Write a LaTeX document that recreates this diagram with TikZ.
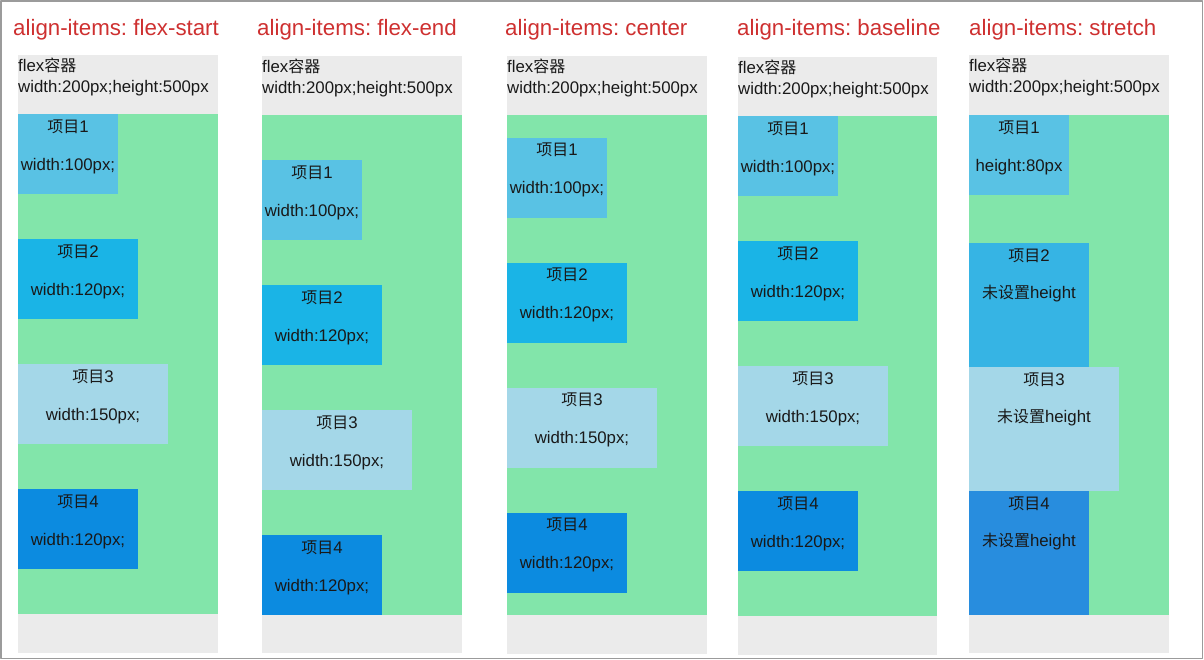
\documentclass[tikz,border=0pt]{standalone}
\usepackage{fontspec}
\setmainfont{Liberation Sans}
\newfontfamily\cjk[Scale=0.95]{Noto Sans CJK SC}
\frenchspacing

\definecolor{ttlred}{RGB}{206,48,48}
\definecolor{boxgray}{RGB}{235,235,235}
\definecolor{flexgreen}{RGB}{130,229,170}
\definecolor{itemA}{RGB}{89,194,228}
\definecolor{itemB}{RGB}{26,180,230}
\definecolor{itemC}{RGB}{164,215,232}
\definecolor{itemD}{RGB}{12,139,224}
\definecolor{itemBs}{RGB}{54,180,228}
\definecolor{itemDs}{RGB}{40,141,222}
\definecolor{framegray}{RGB}{155,155,155}
\definecolor{ink}{RGB}{25,25,25}

\tikzset{
  box/.style={rectangle, inner sep=0pt, outer sep=0pt, anchor=north west},
  txt/.style={inner sep=0pt, anchor=base, text=ink, font=\fontsize{16.8}{20}\selectfont},
  ttl/.style={inner sep=0pt, anchor=base west, text=ttlred, font=\fontsize{22.3}{26}\selectfont},
}

\begin{document}
\begin{tikzpicture}[line cap=round, line join=round, x=1pt, y=-1pt]
        \useasboundingbox (0,0) rectangle (1204,659);

        % flex-start
        \node[ttl] (t1) at (13,35) {align-items: flex-start};
        \node[box, fill=boxgray, minimum width=200pt, minimum height=598pt] (k1) at (18,55) {};
        \node[box, fill=flexgreen, minimum width=200pt, minimum height=500pt] (g1) at (18,114) {};
        \node[txt, anchor=base west] (k1a) at ([yshift=-16pt]k1.north west) {flex{\cjk 容器}};
        \node[txt, anchor=base west] (k1b) at ([yshift=-37pt]k1.north west) {width:200px;height:500px};

        \node[box, fill=itemA, minimum width=100pt, minimum height=80pt] (c1a) at (18,114) {};
        \node[txt] (c1a1) at ([yshift=-18pt]c1a.north) {{\cjk 项目}1};
        \node[txt] (c1a2) at ([yshift=-56pt]c1a.north) {width:100px;};
        \node[box, fill=itemB, minimum width=120pt, minimum height=80pt] (c1b) at (18,239) {};
        \node[txt] (c1b1) at ([yshift=-18pt]c1b.north) {{\cjk 项目}2};
        \node[txt] (c1b2) at ([yshift=-56pt]c1b.north) {width:120px;};
        \node[box, fill=itemC, minimum width=150pt, minimum height=80pt] (c1c) at (18,364) {};
        \node[txt] (c1c1) at ([yshift=-18pt]c1c.north) {{\cjk 项目}3};
        \node[txt] (c1c2) at ([yshift=-56pt]c1c.north) {width:150px;};
        \node[box, fill=itemD, minimum width=120pt, minimum height=80pt] (c1d) at (18,489) {};
        \node[txt] (c1d1) at ([yshift=-18pt]c1d.north) {{\cjk 项目}4};
        \node[txt] (c1d2) at ([yshift=-56pt]c1d.north) {width:120px;};

        % flex-end
        \node[ttl] (t2) at (257,35) {align-items: flex-end};
        \node[box, fill=boxgray, minimum width=200pt, minimum height=597pt] (k2) at (262,56) {};
        \node[box, fill=flexgreen, minimum width=200pt, minimum height=500pt] (g2) at (262,115) {};
        \node[txt, anchor=base west] (k2a) at ([yshift=-16pt]k2.north west) {flex{\cjk 容器}};
        \node[txt, anchor=base west] (k2b) at ([yshift=-37pt]k2.north west) {width:200px;height:500px};

        \node[box, fill=itemA, minimum width=100pt, minimum height=80pt] (c2a) at (262,160) {};
        \node[txt] (c2a1) at ([yshift=-18pt]c2a.north) {{\cjk 项目}1};
        \node[txt] (c2a2) at ([yshift=-56pt]c2a.north) {width:100px;};
        \node[box, fill=itemB, minimum width=120pt, minimum height=80pt] (c2b) at (262,285) {};
        \node[txt] (c2b1) at ([yshift=-18pt]c2b.north) {{\cjk 项目}2};
        \node[txt] (c2b2) at ([yshift=-56pt]c2b.north) {width:120px;};
        \node[box, fill=itemC, minimum width=150pt, minimum height=80pt] (c2c) at (262,410) {};
        \node[txt] (c2c1) at ([yshift=-18pt]c2c.north) {{\cjk 项目}3};
        \node[txt] (c2c2) at ([yshift=-56pt]c2c.north) {width:150px;};
        \node[box, fill=itemD, minimum width=120pt, minimum height=80pt] (c2d) at (262,535) {};
        \node[txt] (c2d1) at ([yshift=-18pt]c2d.north) {{\cjk 项目}4};
        \node[txt] (c2d2) at ([yshift=-56pt]c2d.north) {width:120px;};

        % center
        \node[ttl] (t3) at (505,35) {align-items: center};
        \node[box, fill=boxgray, minimum width=200pt, minimum height=598pt] (k3) at (507,56) {};
        \node[box, fill=flexgreen, minimum width=200pt, minimum height=500pt] (g3) at (507,115) {};
        \node[txt, anchor=base west] (k3a) at ([yshift=-16pt]k3.north west) {flex{\cjk 容器}};
        \node[txt, anchor=base west] (k3b) at ([yshift=-37pt]k3.north west) {width:200px;height:500px};

        \node[box, fill=itemA, minimum width=100pt, minimum height=80pt] (c3a) at (507,137.5) {};
        \node[txt] (c3a1) at ([yshift=-18pt]c3a.north) {{\cjk 项目}1};
        \node[txt] (c3a2) at ([yshift=-56pt]c3a.north) {width:100px;};
        \node[box, fill=itemB, minimum width=120pt, minimum height=80pt] (c3b) at (507,262.5) {};
        \node[txt] (c3b1) at ([yshift=-18pt]c3b.north) {{\cjk 项目}2};
        \node[txt] (c3b2) at ([yshift=-56pt]c3b.north) {width:120px;};
        \node[box, fill=itemC, minimum width=150pt, minimum height=80pt] (c3c) at (507,387.5) {};
        \node[txt] (c3c1) at ([yshift=-18pt]c3c.north) {{\cjk 项目}3};
        \node[txt] (c3c2) at ([yshift=-56pt]c3c.north) {width:150px;};
        \node[box, fill=itemD, minimum width=120pt, minimum height=80pt] (c3d) at (507,512.5) {};
        \node[txt] (c3d1) at ([yshift=-18pt]c3d.north) {{\cjk 项目}4};
        \node[txt] (c3d2) at ([yshift=-56pt]c3d.north) {width:120px;};

        % baseline
        \node[ttl] (t4) at (737,35) {align-items: baseline};
        \node[box, fill=boxgray, minimum width=199pt, minimum height=598pt] (k4) at (738,57) {};
        \node[box, fill=flexgreen, minimum width=199pt, minimum height=500pt] (g4) at (738,116) {};
        \node[txt, anchor=base west] (k4a) at ([yshift=-16pt]k4.north west) {flex{\cjk 容器}};
        \node[txt, anchor=base west] (k4b) at ([yshift=-37pt]k4.north west) {width:200px;height:500px};

        \node[box, fill=itemA, minimum width=100pt, minimum height=80pt] (c4a) at (738,116) {};
        \node[txt] (c4a1) at ([yshift=-18pt]c4a.north) {{\cjk 项目}1};
        \node[txt] (c4a2) at ([yshift=-56pt]c4a.north) {width:100px;};
        \node[box, fill=itemB, minimum width=120pt, minimum height=80pt] (c4b) at (738,241) {};
        \node[txt] (c4b1) at ([yshift=-18pt]c4b.north) {{\cjk 项目}2};
        \node[txt] (c4b2) at ([yshift=-56pt]c4b.north) {width:120px;};
        \node[box, fill=itemC, minimum width=150pt, minimum height=80pt] (c4c) at (738,366) {};
        \node[txt] (c4c1) at ([yshift=-18pt]c4c.north) {{\cjk 项目}3};
        \node[txt] (c4c2) at ([yshift=-56pt]c4c.north) {width:150px;};
        \node[box, fill=itemD, minimum width=120pt, minimum height=80pt] (c4d) at (738,491) {};
        \node[txt] (c4d1) at ([yshift=-18pt]c4d.north) {{\cjk 项目}4};
        \node[txt] (c4d2) at ([yshift=-56pt]c4d.north) {width:120px;};

        % stretch
        \node[ttl] (t5) at (969,35) {align-items: stretch};
        \node[box, fill=boxgray, minimum width=200pt, minimum height=598pt] (k5) at (969,55) {};
        \node[box, fill=flexgreen, minimum width=200pt, minimum height=500pt] (g5) at (969,115) {};
        \node[txt, anchor=base west] (k5a) at ([yshift=-16pt]k5.north west) {flex{\cjk 容器}};
        \node[txt, anchor=base west] (k5b) at ([yshift=-37pt]k5.north west) {width:200px;height:500px};

        \node[box, fill=itemA, minimum width=100pt, minimum height=80pt] (c5a) at (969,115) {};
        \node[txt] (c5a1) at ([yshift=-18pt]c5a.north) {{\cjk 项目}1};
        \node[txt] (c5a2) at ([yshift=-56pt]c5a.north) {height:80px};
        \node[box, fill=itemBs, minimum width=120pt, minimum height=124pt] (c5b) at (969,243) {};
        \node[txt] (c5b1) at ([yshift=-18pt]c5b.north) {{\cjk 项目}2};
        \node[txt] (c5b2) at ([yshift=-55pt]c5b.north) {{\cjk 未设置}height};
        \node[box, fill=itemC, minimum width=150pt, minimum height=124pt] (c5c) at (969,367) {};
        \node[txt] (c5c1) at ([yshift=-18pt]c5c.north) {{\cjk 项目}3};
        \node[txt] (c5c2) at ([yshift=-55pt]c5c.north) {{\cjk 未设置}height};
        \node[box, fill=itemDs, minimum width=120pt, minimum height=124pt] (c5d) at (969,491) {};
        \node[txt] (c5d1) at ([yshift=-18pt]c5d.north) {{\cjk 项目}4};
        \node[txt] (c5d2) at ([yshift=-55pt]c5d.north) {{\cjk 未设置}height};

        \draw[framegray, line width=1.5pt] (0.75,0.75) rectangle (1202.25,658.25);
    \end{tikzpicture}
\end{document}
